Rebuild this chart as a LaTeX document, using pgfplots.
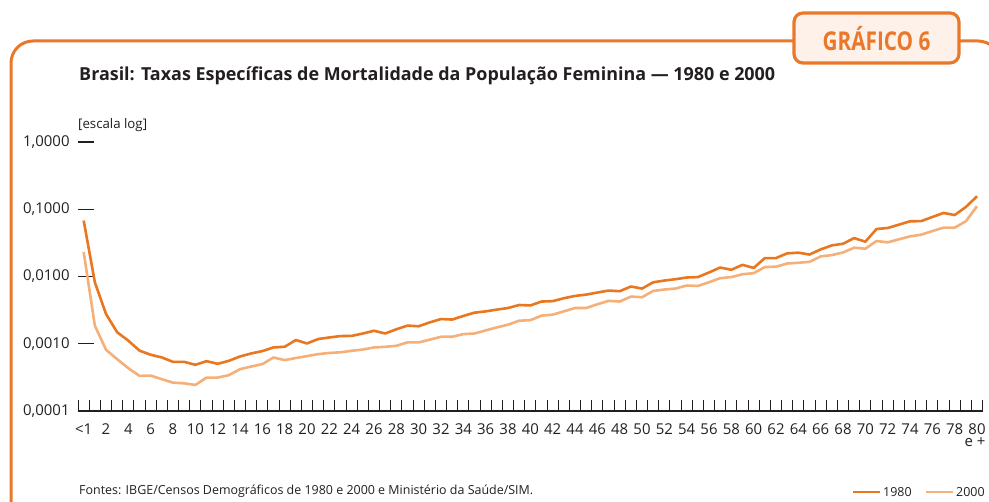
\documentclass[border=0pt]{standalone}
\usepackage{pgfplots}
\usepackage{pgfplotstable}
\pgfplotsset{compat=1.18}
\usepackage{fontspec}
\setmainfont{Open Sans}
\newfontfamily\condfont{Open Sans}[FakeStretch=0.8]
\definecolor{frame}{HTML}{E9782A}
\definecolor{cA}{HTML}{E8771F}
\definecolor{cB}{HTML}{F5B07A}
\definecolor{boxfill}{HTML}{FDF1EA}
\definecolor{txt}{HTML}{231F20}
\pgfplotstableread{
age a1980 a2000
0 0.068 0.0231
1 0.0082 0.00186
2 0.00277 0.000813
3 0.00148 0.00059
4 0.00111 0.000433
5 0.00079 0.000333
6 0.000686 0.000336
7 0.000625 0.000297
8 0.000538 0.000264
9 0.000538 0.000258
10 0.000486 0.000244
11 0.000551 0.000314
12 0.000503 0.000314
13 0.000557 0.000341
14 0.000647 0.000419
15 0.000717 0.000458
16 0.000778 0.000498
17 0.000881 0.000625
18 0.000902 0.000571
19 0.001135 0.000613
20 0.00101 0.000655
21 0.001175 0.000701
22 0.00124 0.00073
23 0.0013 0.000746
24 0.00131 0.000786
25 0.00142 0.00082
26 0.00156 0.000881
27 0.00142 0.0009
28 0.00164 0.000933
29 0.00186 0.001047
30 0.00182 0.001047
31 0.00208 0.00115
32 0.00233 0.00127
33 0.00229 0.00127
34 0.00259 0.00139
35 0.0029 0.00142
36 0.00303 0.00158
37 0.00322 0.00175
38 0.0034 0.00192
39 0.00377 0.0022
40 0.00371 0.00224
41 0.00424 0.00262
42 0.0043 0.00271
43 0.00475 0.00303
44 0.00514 0.0034
45 0.00538 0.0034
46 0.00577 0.00386
47 0.00618 0.00434
48 0.00604 0.00424
49 0.0071 0.00503
50 0.00661 0.00492
51 0.0082 0.0061
52 0.0087 0.0064
53 0.00912 0.00662
54 0.00966 0.00734
55 0.0098 0.00723
56 0.01148 0.00822
57 0.0136 0.00944
58 0.0126 0.0098
59 0.0149 0.0108
60 0.0134 0.0112
61 0.0188 0.0138
62 0.0188 0.014
63 0.0221 0.0156
64 0.0226 0.016
65 0.0212 0.0165
66 0.0253 0.0199
67 0.029 0.0208
68 0.0307 0.0228
69 0.0373 0.0268
70 0.0329 0.0259
71 0.0508 0.0337
72 0.0526 0.0322
73 0.059 0.0357
74 0.0662 0.0395
75 0.0666 0.0419
76 0.0767 0.0474
77 0.0881 0.0532
78 0.082 0.0532
79 0.108 0.0662
80 0.156 0.111
}\data
\begin{document}
\begin{tikzpicture}[x=1bp,y=1bp]
\path[use as bounding box] (0,0) rectangle (989,502);
\begin{scope}
\clip (0,0) rectangle (989,502);
% outer frame
\draw[frame, line width=3bp, rounded corners=22bp] (11,-20) -- (11,461) -- (1000,461) -- (1000,-20);
\end{scope}
% GRAFICO box
\draw[frame, line width=3.2bp, fill=boxfill, rounded corners=9bp] (794,439) rectangle (959,489);
\node[anchor=center, text=frame, font=\condfont\fontsize{26}{28}\selectfont\bfseries] at (876.5,463) {GRÁFICO 6};
% title
\node[anchor=base west, inner sep=0, text=txt, font=\fontsize{18}{20}\selectfont\bfseries] at (79,421) {Brasil: Taxas Específicas de Mortalidade da População Feminina — 1980 e 2000};
\node[anchor=base west, inner sep=0, text=txt, font=\fontsize{13.3}{15}\selectfont] at (78,373) {[escala log]};
% footer
\node[anchor=base west, inner sep=0, text=txt, font=\fontsize{12.5}{14}\selectfont] at (79,7) {Fontes: IBGE/Censos Demográficos de 1980 e 2000 e Ministério da Saúde/SIM.};
\begin{axis}[
  at={(78.1bp,91bp)}, anchor=south west,
  scale only axis, width=904.5bp, height=269bp,
  ymode=log, xmin=-0.5, xmax=80.5, ymin=1e-4, ymax=1,
  axis lines*=left,
  y axis line style={draw=none},
  x axis line style={line width=1.2bp, color=txt},
  tick align=inside,
  xtick={0,2,...,80},
  xticklabels={<1,2,4,6,8,10,12,14,16,18,20,22,24,26,28,30,32,34,36,38,40,42,44,46,48,50,52,54,56,58,60,62,64,66,68,70,72,74,76,78,80},
  extra x ticks={80},
  extra x tick labels={e +},
  extra x tick style={major tick length=0pt, xticklabel style={yshift=-12bp, xshift=-2bp}},
  major x tick style={draw=none},
  minor xtick={-0.5,0.5,...,80.5},
  yminorticks=false,
  minor tick length=11bp,
  minor x tick style={draw=txt, line width=1bp},
  ytick={1e-4,1e-3,1e-2,1e-1,1},
  yticklabels={{0,0001},{0,0010},{0,0100},{0,1000},{1,0000}},
  major tick length=16bp,
  y tick style={line width=1.2bp, color=txt},
  tick label style={font=\fontsize{15}{16}\selectfont, text=txt},
  xticklabel style={anchor=base, inner sep=0bp, yshift=-24bp},
  yticklabel style={xshift=-5bp},
  /pgf/number format/assume math mode=true,
  clip=false,
]
\addplot[cA, line width=2.6bp, line join=round] table[x=age, y=a1980] {\data};
\addplot[cB, line width=2.6bp, line join=round] table[x=age, y=a2000] {\data};
\end{axis}
% legend
\draw[cA, line width=2.6bp] (853,10) -- (880,10);
\node[anchor=base west, inner sep=0, text=txt, font=\fontsize{12.5}{14}\selectfont] at (883,5.5) {1980};
\draw[cB, line width=2.6bp] (926,10) -- (953,10);
\node[anchor=base west, inner sep=0, text=txt, font=\fontsize{12.5}{14}\selectfont] at (956,5.5) {2000};
\end{tikzpicture}
\end{document}
